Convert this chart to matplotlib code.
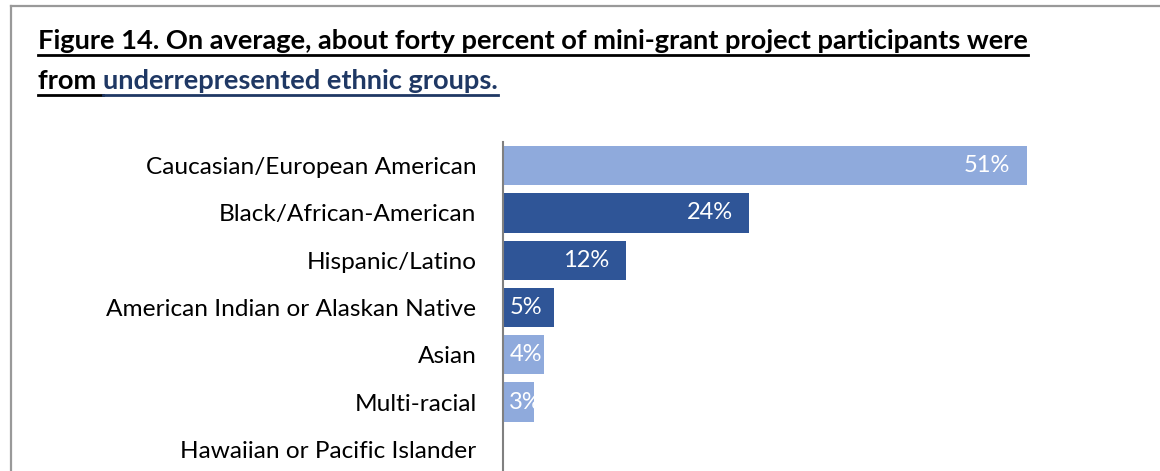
import matplotlib.pyplot as plt
from matplotlib.lines import Line2D

# data
categories = [
    "Caucasian/European American",
    "Black/African-American",
    "Hispanic/Latino",
    "American Indian or Alaskan Native",
    "Asian",
    "Multi-racial",
    "Hawaiian or Pacific Islander",
]
values = [51, 24, 12, 5, 4, 3, 0]
underrepresented = [False, True, True, True, False, False, False]

title_line1 = "Figure 14. On average, about forty percent of mini-grant project participants were"
title_from = "from "
title_blue = "underrepresented ethnic groups."

light = "#8FAADC"
dark = "#2F5597"
navy = "#1F3864"
font = "Lato"

W, H = 1160, 471
fig = plt.figure(figsize=(W / 100, H / 100), dpi=100)

# axes placed in pixel terms: left spine at x=503, rows 47.3 px apart
ax = fig.add_axes([503 / W, -2 / H, 616 / W, 331 / H])
ypos = list(range(len(categories)))
colors = [dark if u else light for u in underrepresented]
ax.barh(ypos, values, height=0.83, color=colors)
ax.set_ylim(len(categories) - 0.5, -0.5)
ax.set_xlim(0, 60)
ax.set_xticks([])
ax.set_yticks(ypos)
ax.set_yticklabels(categories, fontsize=17.6, family=font, color="black")
ax.tick_params(axis="y", length=0, pad=19)
for s in ["top", "right", "bottom"]:
    ax.spines[s].set_visible(False)
ax.spines["left"].set_color("#808080")
ax.spines["left"].set_linewidth(1.5)

# value labels, inside end
for i, v in enumerate(values):
    if v == 0:
        continue
    if v >= 10:
        ax.annotate(f"{v}%", (v, i), xytext=(-12, 0), textcoords="offset points",
                    ha="right", va="center", color="white", fontsize=17, family=font)
    else:
        ax.annotate(f"{v}%", (0, i), xytext=(4.5, 0), textcoords="offset points",
                    ha="left", va="center", color="white", fontsize=17, family=font)

# gray frame (top and left edges visible)
fig.add_artist(Line2D([11 / W, 1], [1 - 6 / H, 1 - 6 / H], color="#999999", lw=1.6))
fig.add_artist(Line2D([11 / W, 11 / W], [0, 1 - 6 / H], color="#999999", lw=1.6))

# title with underlines
tfs = 19.6
tx = 38 / W
t1 = fig.text(tx, 1 - 49 / H, title_line1, fontsize=tfs, fontweight="bold",
              family=font, va="baseline", color="black")
t2 = fig.text(tx, 1 - 89 / H, title_from, fontsize=tfs, fontweight="bold",
              family=font, va="baseline", color="black")
r = fig.canvas.get_renderer()
b2 = t2.get_window_extent(r)
t3 = fig.text(b2.x1 / W, 1 - 89 / H, title_blue, fontsize=tfs, fontweight="bold",
              family=font, va="baseline", color=navy)
b1 = t1.get_window_extent(r)
b3 = t3.get_window_extent(r)

uy1 = 1 - 55 / H
uy2 = 1 - 95 / H
fig.add_artist(Line2D([b1.x0 / W, b1.x1 / W], [uy1, uy1], color="black", lw=2))
fig.add_artist(Line2D([b2.x0 / W, b2.x1 / W], [uy2, uy2], color="black", lw=2))
fig.add_artist(Line2D([b3.x0 / W, b3.x1 / W], [uy2, uy2], color=navy, lw=2))

fig.savefig("out.png", dpi=100)
